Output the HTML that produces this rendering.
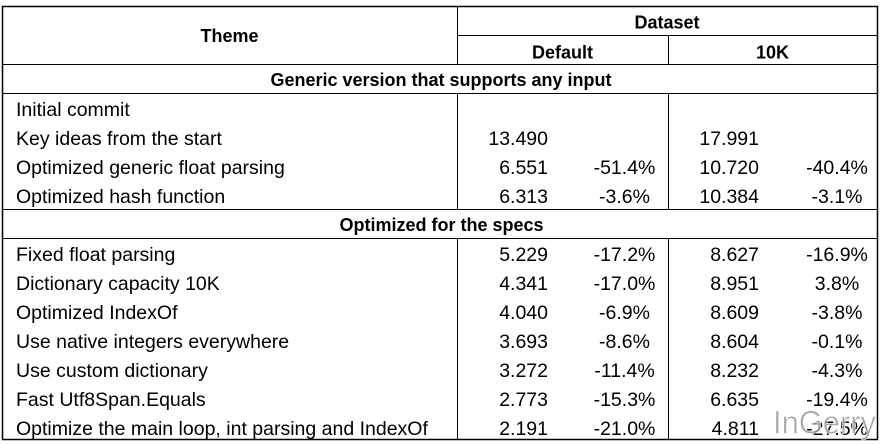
<!DOCTYPE html>
<html>
<head>
<meta charset="utf-8">
<style>
  html,body{margin:0;padding:0;background:#fff;}
  svg{display:block;}
  .r{font-family:"Liberation Sans",Arial,sans-serif;font-size:19.5px;fill:#000;}
  .b{font-family:"Liberation Sans",Arial,sans-serif;font-size:18px;font-weight:bold;fill:#000;}
</style>
</head>
<body>
<svg width="882" height="444" viewBox="0 0 882 444" xmlns="http://www.w3.org/2000/svg">
  <rect x="0" y="0" width="882" height="444" fill="#fff"/>
  <g stroke="#000" stroke-width="1" fill="none">
    <!-- outer border -->
    <rect x="2.5" y="6.5" width="875" height="433" stroke-width="1.5"/>
    <!-- horizontal lines -->
    <line x1="457.5" y1="35.5" x2="877.5" y2="35.5"/>
    <line x1="2.5" y1="64.5" x2="877.5" y2="64.5"/>
    <line x1="2.5" y1="93.5" x2="877.5" y2="93.5"/>
    <line x1="2.5" y1="209.5" x2="877.5" y2="209.5"/>
    <line x1="2.5" y1="238.5" x2="877.5" y2="238.5"/>
    <!-- vertical lines -->
    <line x1="457.5" y1="6.5" x2="457.5" y2="64.5"/>
    <line x1="457.5" y1="93.5" x2="457.5" y2="209.5"/>
    <line x1="457.5" y1="238.5" x2="457.5" y2="439.5"/>
    <line x1="668.5" y1="35.5" x2="668.5" y2="64.5"/>
    <line x1="668.5" y1="93.5" x2="668.5" y2="209.5"/>
    <line x1="668.5" y1="238.5" x2="668.5" y2="439.5"/>
  </g>

  <!-- headers -->
  <text class="b" x="229.5" y="42" text-anchor="middle">Theme</text>
  <text class="b" x="667" y="28.5" text-anchor="middle">Dataset</text>
  <text class="b" x="562.5" y="58.5" text-anchor="middle">Default</text>
  <text class="b" x="772.5" y="58.5" text-anchor="middle">10K</text>
  <text class="b" x="441" y="86" text-anchor="middle">Generic version that supports any input</text>
  <text class="b" x="441.5" y="231" text-anchor="middle">Optimized for the specs</text>

  <!-- section 1 -->
  <text class="r" x="16" y="116">Initial commit</text>

  <text class="r" x="16" y="145">Key ideas from the start</text>
  <text class="r" x="548" y="145" text-anchor="end">13.490</text>
  <text class="r" x="759" y="145" text-anchor="end">17.991</text>

  <text class="r" x="16" y="174">Optimized generic float parsing</text>
  <text class="r" x="548" y="174" text-anchor="end">6.551</text>
  <text class="r" x="624.5" y="174" text-anchor="middle">-51.4%</text>
  <text class="r" x="759" y="174" text-anchor="end">10.720</text>
  <text class="r" x="837" y="174" text-anchor="middle">-40.4%</text>

  <text class="r" x="16" y="203">Optimized hash function</text>
  <text class="r" x="548" y="203" text-anchor="end">6.313</text>
  <text class="r" x="624.5" y="203" text-anchor="middle">-3.6%</text>
  <text class="r" x="759" y="203" text-anchor="end">10.384</text>
  <text class="r" x="837" y="203" text-anchor="middle">-3.1%</text>

  <!-- section 2 -->
  <text class="r" x="16" y="261">Fixed float parsing</text>
  <text class="r" x="548" y="261" text-anchor="end">5.229</text>
  <text class="r" x="624.5" y="261" text-anchor="middle">-17.2%</text>
  <text class="r" x="759" y="261" text-anchor="end">8.627</text>
  <text class="r" x="837" y="261" text-anchor="middle">-16.9%</text>

  <text class="r" x="16" y="290">Dictionary capacity 10K</text>
  <text class="r" x="548" y="290" text-anchor="end">4.341</text>
  <text class="r" x="624.5" y="290" text-anchor="middle">-17.0%</text>
  <text class="r" x="759" y="290" text-anchor="end">8.951</text>
  <text class="r" x="837" y="290" text-anchor="middle">3.8%</text>

  <text class="r" x="16" y="319">Optimized IndexOf</text>
  <text class="r" x="548" y="319" text-anchor="end">4.040</text>
  <text class="r" x="624.5" y="319" text-anchor="middle">-6.9%</text>
  <text class="r" x="759" y="319" text-anchor="end">8.609</text>
  <text class="r" x="837" y="319" text-anchor="middle">-3.8%</text>

  <text class="r" x="16" y="348">Use native integers everywhere</text>
  <text class="r" x="548" y="348" text-anchor="end">3.693</text>
  <text class="r" x="624.5" y="348" text-anchor="middle">-8.6%</text>
  <text class="r" x="759" y="348" text-anchor="end">8.604</text>
  <text class="r" x="837" y="348" text-anchor="middle">-0.1%</text>

  <text class="r" x="16" y="377">Use custom dictionary</text>
  <text class="r" x="548" y="377" text-anchor="end">3.272</text>
  <text class="r" x="624.5" y="377" text-anchor="middle">-11.4%</text>
  <text class="r" x="759" y="377" text-anchor="end">8.232</text>
  <text class="r" x="837" y="377" text-anchor="middle">-4.3%</text>

  <text class="r" x="16" y="406">Fast Utf8Span.Equals</text>
  <text class="r" x="548" y="406" text-anchor="end">2.773</text>
  <text class="r" x="624.5" y="406" text-anchor="middle">-15.3%</text>
  <text class="r" x="759" y="406" text-anchor="end">6.635</text>
  <text class="r" x="837" y="406" text-anchor="middle">-19.4%</text>

  <text class="r" x="16" y="435">Optimize the main loop, int parsing and IndexOf</text>
  <text class="r" x="548" y="435" text-anchor="end">2.191</text>
  <text class="r" x="624.5" y="435" text-anchor="middle">-21.0%</text>
  <text class="r" x="759" y="435" text-anchor="end">4.811</text>
  <text class="r" x="837" y="435" text-anchor="middle">-27.5%</text>

  <!-- watermark -->
  <text x="773" y="433.5" font-family="'Liberation Sans',Arial,sans-serif" font-size="32" fill="#9a9a9a" fill-opacity="0.85" stroke="#fff" stroke-width="0.6" textLength="103" lengthAdjust="spacingAndGlyphs">InGerry</text>
</svg>
</body>
</html>
